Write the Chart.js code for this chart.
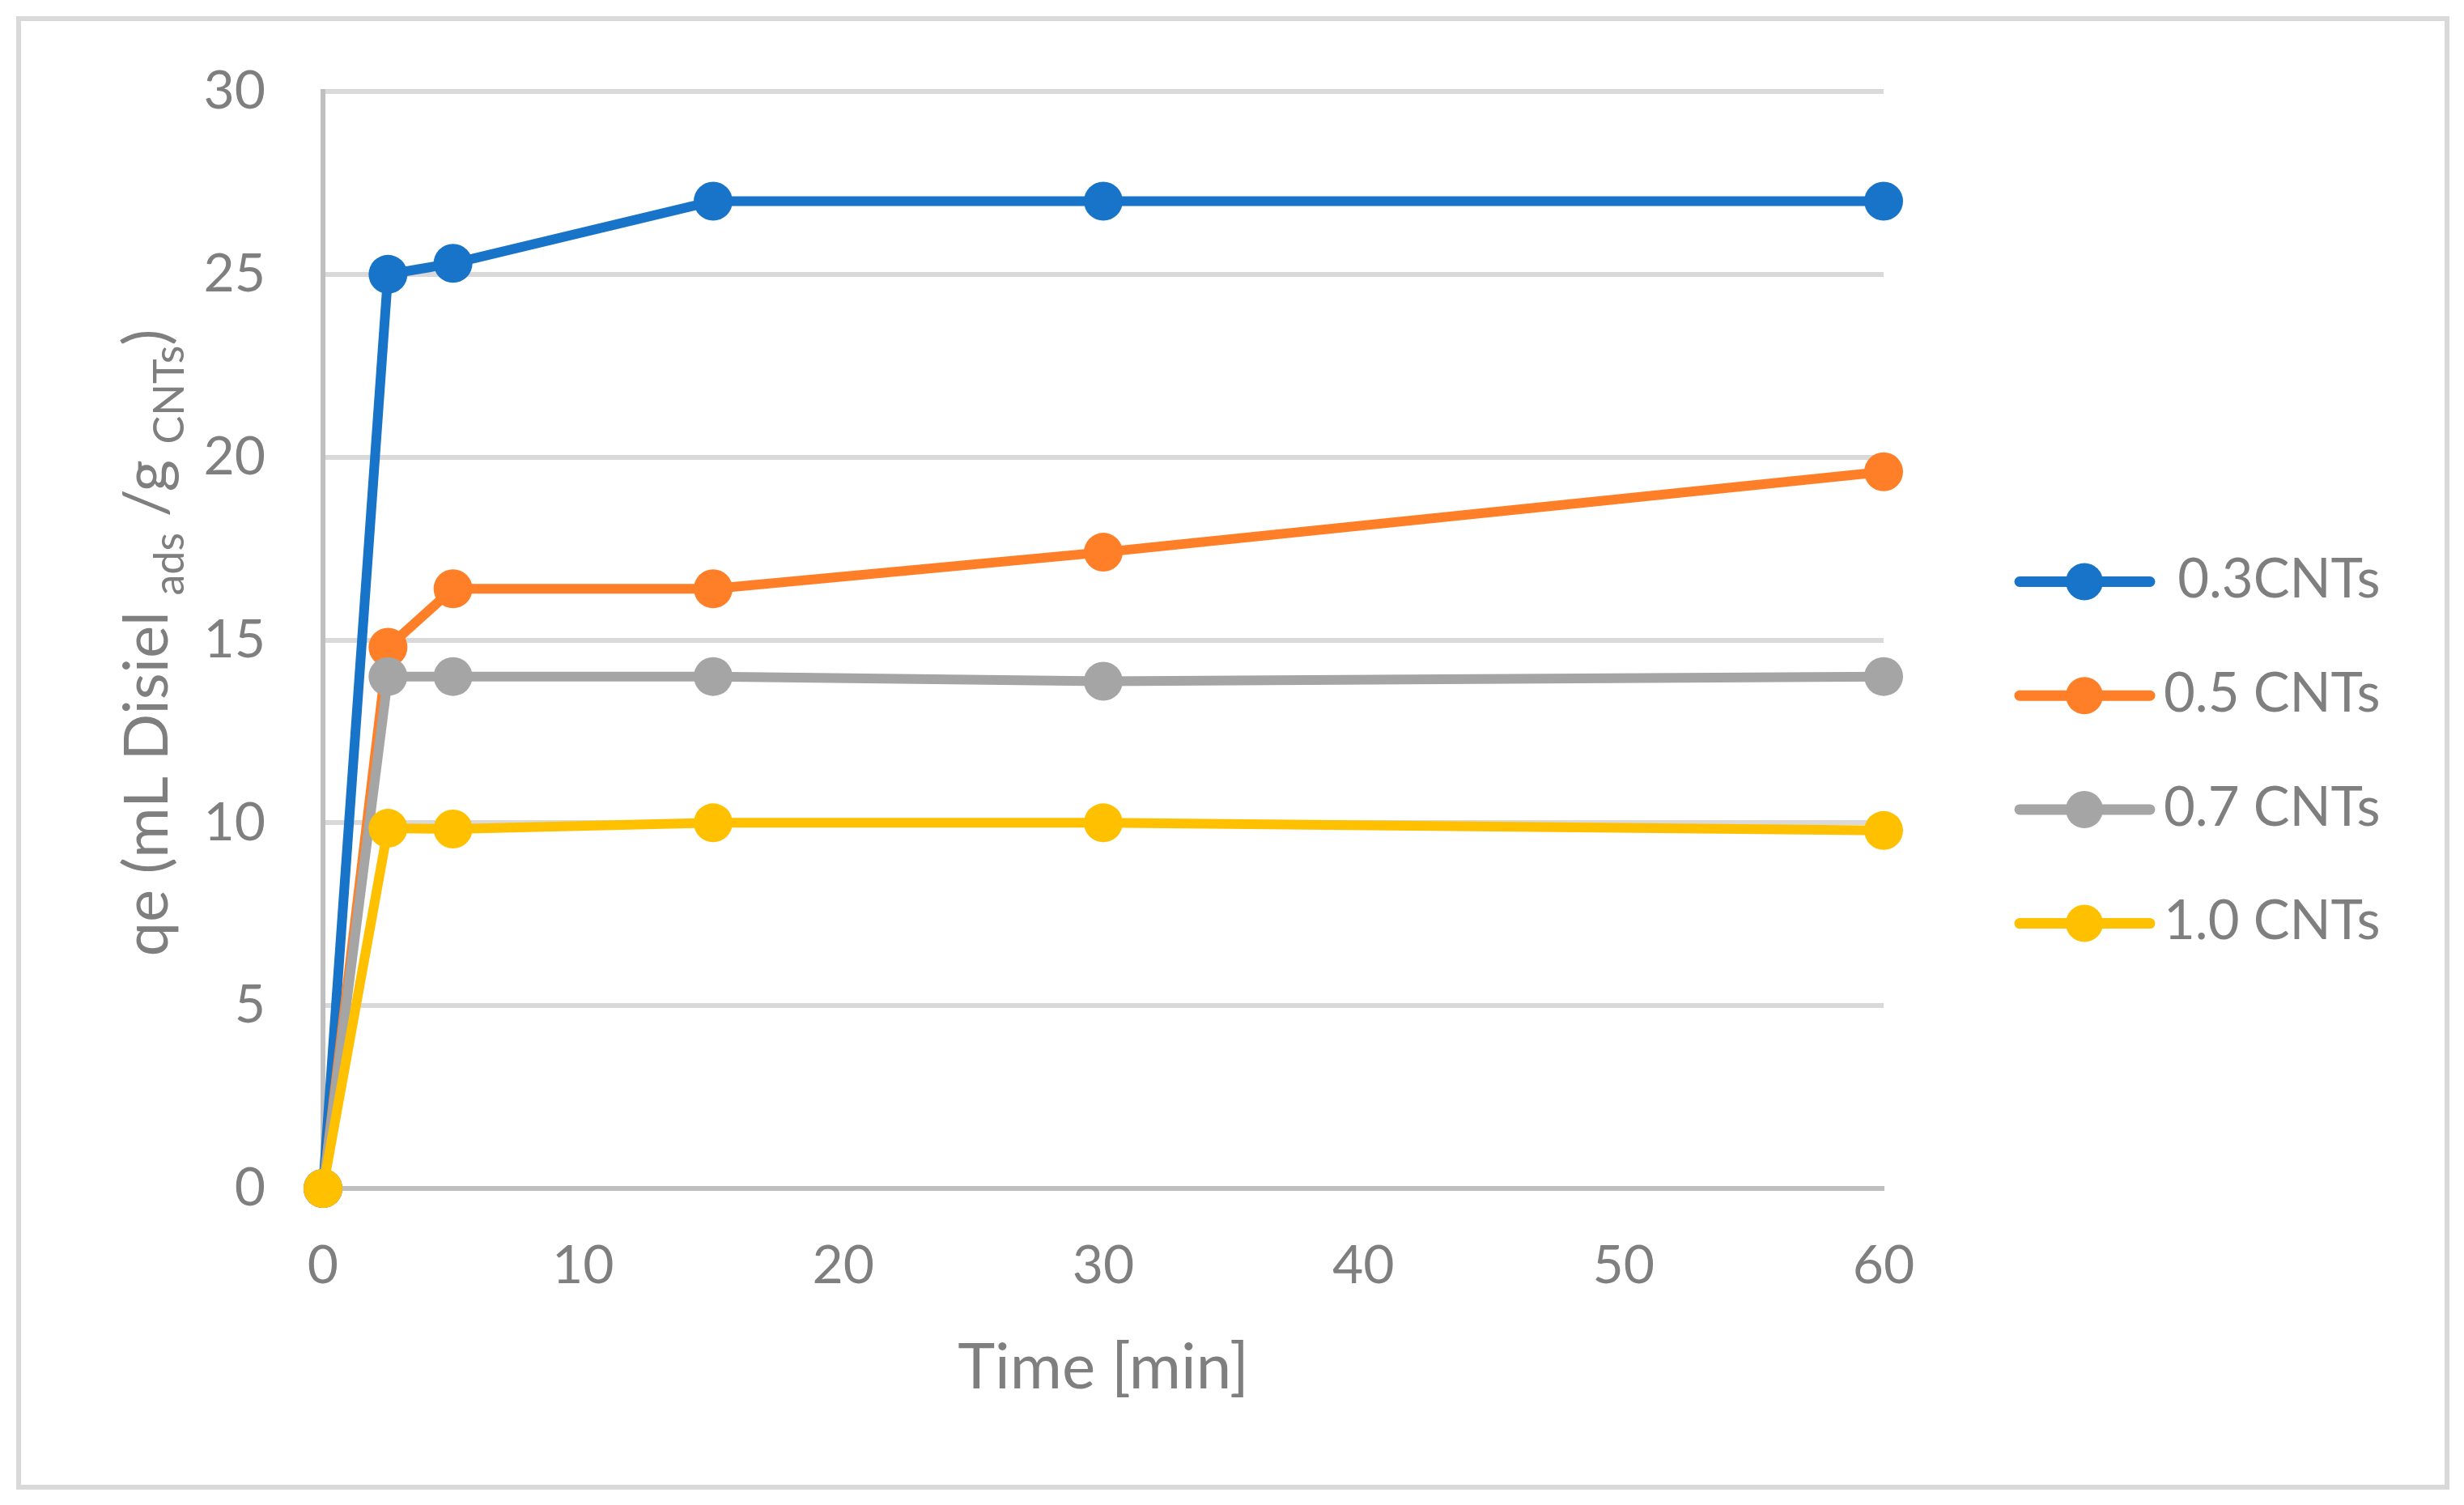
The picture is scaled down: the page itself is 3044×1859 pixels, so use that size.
<!DOCTYPE html>
<html>
<head>
<meta charset="utf-8">
<script src="https://cdn.jsdelivr.net/npm/chart.js@4.4.0/dist/chart.umd.min.js"></script>
<style>
html, body { margin: 0; padding: 0; background: #ffffff; overflow: hidden; }
#wrap { position: relative; width: 3044px; height: 1859px; }
</style>
</head>
<body>
<div id="wrap"><canvas id="c"></canvas></div>
<script>
// ---------- data ----------
const timeMin = [0, 2.5, 5, 15, 30, 60];
const seriesLabels = [' 0.3CNTs', '0.5 CNTs', '0.7 CNTs', '1.0 CNTs'];
const q03 = [0, 25.0, 25.3, 27.0, 27.0, 27.0];
const q05 = [0, 14.8, 16.4, 16.4, 17.4, 19.6];
const q07 = [0, 14.0, 14.0, 14.0, 13.87, 14.0];
const q10 = [0, 9.85, 9.83, 10.0, 10.0, 9.79];
const xTickValues = [0, 10, 20, 30, 40, 50, 60];
const yTickValues = [0, 5, 10, 15, 20, 25, 30];
const xTitle = 'Time [min]';
const yTitleParts = [
  { text: 'qe (mL Disiel ', sub: false },
  { text: 'ads', sub: true },
  { text: ' /g ', sub: false },
  { text: 'CNTs', sub: true },
  { text: ')', sub: false }
];

// ---------- styles ----------
const colors = ['#1874C8', '#FE7F27', '#A5A5A5', '#FFC000'];
const TEXT = '#7f7f7f';
const FONT = 'Lato';

function toPoints(ys) { return timeMin.map((t, i) => ({ x: t, y: ys[i] })); }
const seriesValues = [q03, q05, q07, q10];

const datasets = seriesValues.map((vals, i) => ({
  label: seriesLabels[i],
  data: toPoints(vals),
  borderColor: colors[i],
  backgroundColor: colors[i],
  pointBackgroundColor: colors[i],
  pointBorderColor: colors[i],
  pointBorderWidth: 0,
  pointRadius: 24,
  pointHoverRadius: 24,
  borderWidth: 12,
  tension: 0,
  fill: false,
  clip: false,
  order: seriesValues.length - 1 - i
}));

const framePlugin = {
  id: 'frame',
  beforeDraw(chart) {
    const ctx = chart.ctx;
    ctx.save();
    ctx.fillStyle = '#ffffff';
    ctx.fillRect(0, 0, chart.width, chart.height);
    ctx.strokeStyle = '#d9d9d9';
    ctx.lineWidth = 6;
    ctx.strokeRect(23, 23, 3000, 1814);
    ctx.restore();
  }
};

const yTitlePlugin = {
  id: 'yTitle',
  afterDraw(chart) {
    const ctx = chart.ctx;
    const mainFont = '76px ' + FONT;
    const subFont = '52px ' + FONT;
    ctx.save();
    let total = 0;
    const widths = yTitleParts.map(p => {
      ctx.font = p.sub ? subFont : mainFont;
      const w = ctx.measureText(p.text).width;
      total += w;
      return w;
    });
    const cy = 794;
    ctx.translate(207, cy);
    ctx.rotate(-Math.PI / 2);
    ctx.fillStyle = TEXT;
    ctx.textBaseline = 'alphabetic';
    ctx.textAlign = 'left';
    let x = -total / 2;
    yTitleParts.forEach((p, i) => {
      ctx.font = p.sub ? subFont : mainFont;
      ctx.fillText(p.text, x, p.sub ? 20 : 0);
      x += widths[i];
    });
    ctx.restore();
  }
};

const legendPlugin = {
  id: 'customLegend',
  afterDraw(chart) {
    const ctx = chart.ctx;
    const y0 = 718.5, step = 140.7;
    ctx.save();
    chart.data.datasets.forEach((ds, i) => {
      const y = y0 + i * step;
      ctx.strokeStyle = ds.borderColor;
      ctx.lineWidth = 13;
      ctx.lineCap = 'round';
      ctx.beginPath();
      ctx.moveTo(2495, y);
      ctx.lineTo(2656, y);
      ctx.stroke();
      ctx.fillStyle = ds.pointBackgroundColor;
      ctx.beginPath();
      ctx.arc(2575, y, 23, 0, Math.PI * 2);
      ctx.fill();
      ctx.fillStyle = TEXT;
      ctx.font = '67px ' + FONT;
      ctx.textBaseline = 'middle';
      ctx.textAlign = 'left';
      ctx.fillText(ds.label, 2673, y - 2);
    });
    ctx.restore();
  }
};

new Chart(document.getElementById('c'), {
  type: 'line',
  data: { datasets },
  plugins: [framePlugin, yTitlePlugin, legendPlugin],
  options: {
    responsive: true,
    maintainAspectRatio: false,
    animation: false,
    devicePixelRatio: 1,
    layout: { padding: { left: 0, top: 113, right: 717, bottom: 91 } },
    plugins: {
      legend: { display: false },
      tooltip: { enabled: false },
      title: { display: false }
    },
    scales: {
      x: {
        type: 'linear',
        min: 0,
        max: 60,
        afterBuildTicks: s => { s.ticks = xTickValues.map(v => ({ value: v })); },
        afterFit: s => { s.height = 300; },
        grid: { display: true, drawOnChartArea: false, drawTicks: false },
        border: { display: true, color: '#bfbfbf', width: 6 },
        ticks: {
          color: TEXT,
          font: { family: FONT, size: 66 },
          padding: 56,
          maxRotation: 0,
          autoSkip: false
        },
        title: {
          display: true,
          text: xTitle,
          color: TEXT,
          font: { family: FONT, size: 78 },
          padding: { top: 0, bottom: 31 }
        }
      },
      y: {
        type: 'linear',
        min: 0,
        max: 30,
        afterBuildTicks: s => { s.ticks = yTickValues.map(v => ({ value: v })); },
        afterFit: s => { s.width = 399; },
        grid: { color: '#d9d9d9', lineWidth: 6, drawTicks: false },
        border: { display: true, color: '#bfbfbf', width: 6 },
        ticks: {
          color: TEXT,
          font: { family: FONT, size: 66 },
          padding: 71
        }
      }
    }
  }
});
</script>
</body>
</html>
